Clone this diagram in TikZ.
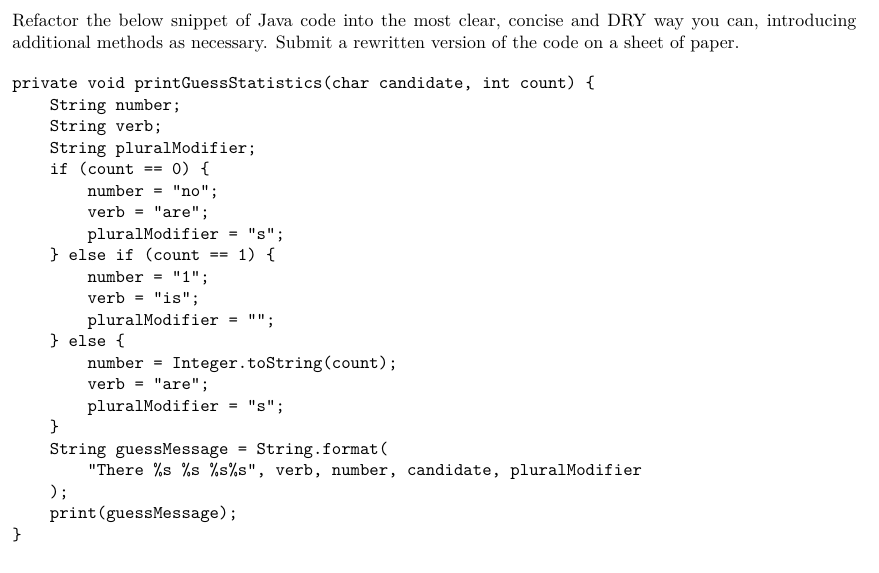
\documentclass[tikz,border=0pt]{standalone}
\usepackage{fontspec}
\begin{document}
\begin{tikzpicture}[x=1pt,y=1pt,
  cl/.style={anchor=base west,inner sep=0,font=\ttfamily\fontsize{10}{12}\selectfont}]
\useasboundingbox (0,0) rectangle (491,-320);
\node[anchor=north west,inner sep=0,text width=471.5pt,align=justify,font=\fontsize{10}{12.3}\selectfont] (para) at (6.7,-7.3)
 {Refactor the below snippet of Java code into the most clear, concise and DRY way you can, introducing additional methods as necessary. Submit a rewritten version of the code on a sheet of paper.};
\def\L#1#2#3{\node[cl] (l#1) at ({6.7+21*#2},{-49.7-12*#1}) {#3};}
\L{0}{0}{private void printGuessStatistics(char candidate, int count) \{}
\L{1}{1}{String number;}
\L{2}{1}{String verb;}
\L{3}{1}{String pluralModifier;}
\L{4}{1}{if (count == 0) \{}
\L{5}{2}{number = "no";}
\L{6}{2}{verb = "are";}
\L{7}{2}{pluralModifier = "s";}
\L{8}{1}{\} else if (count == 1) \{}
\L{9}{2}{number = "1";}
\L{10}{2}{verb = "is";}
\L{11}{2}{pluralModifier = "";}
\L{12}{1}{\} else \{}
\L{13}{2}{number = Integer.toString(count);}
\L{14}{2}{verb = "are";}
\L{15}{2}{pluralModifier = "s";}
\L{16}{1}{\}}
\L{17}{1}{String guessMessage = String.format(}
\L{18}{2}{"There \%s \%s \%s\%s", verb, number, candidate, pluralModifier}
\L{19}{1}{);}
\L{20}{1}{print(guessMessage);}
\L{21}{0}{\}}
\end{tikzpicture}
\end{document}
